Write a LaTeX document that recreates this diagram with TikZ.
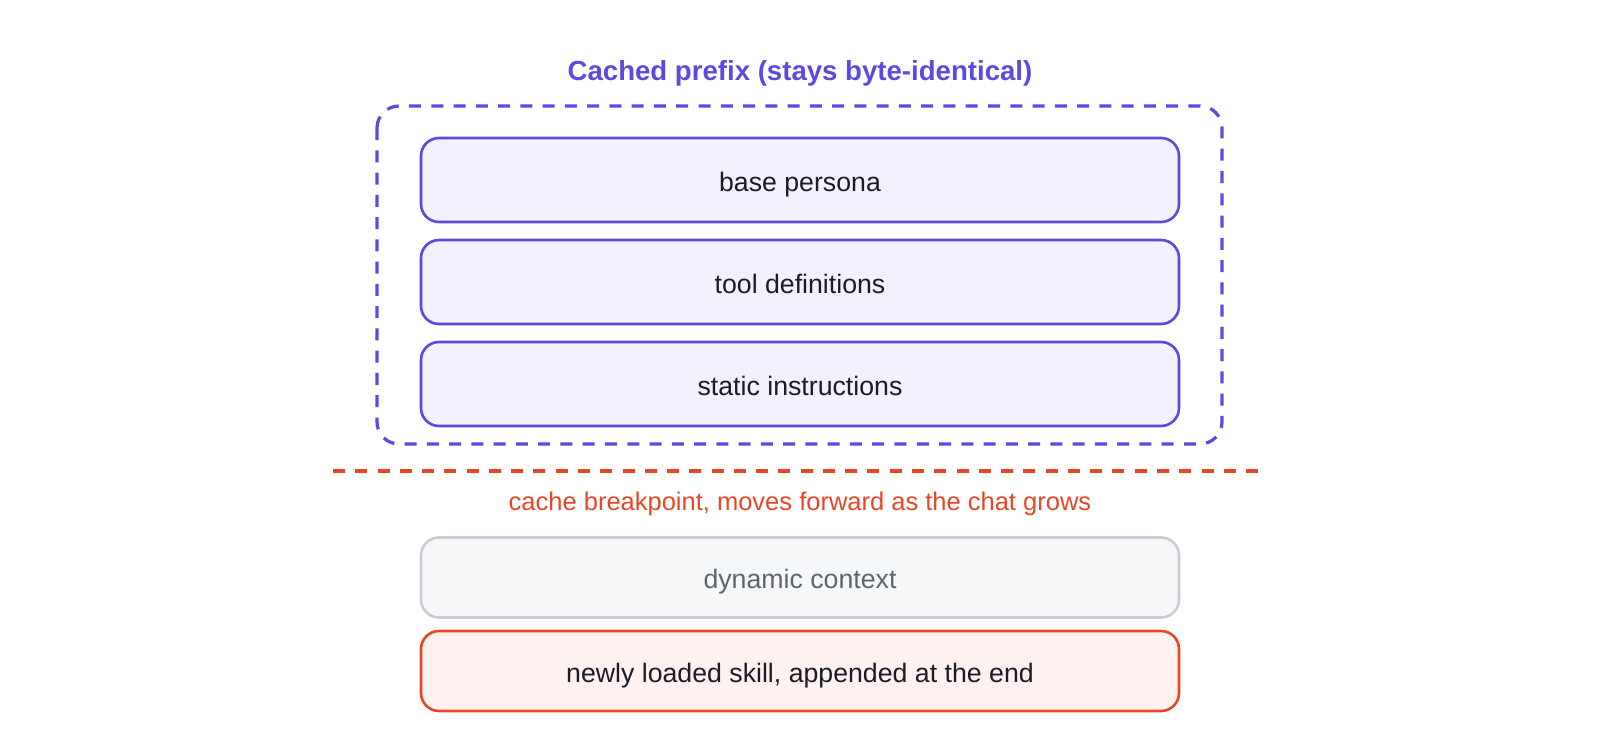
\documentclass[tikz,border=0pt]{standalone}
\usepackage{fontspec}
\setmainfont{Liberation Sans}
\definecolor{cblue}{RGB}{91,74,225}
\definecolor{cbluefill}{RGB}{242,241,253}
\definecolor{cred}{RGB}{232,70,36}
\definecolor{credfill}{RGB}{253,242,239}
\definecolor{cgray}{RGB}{201,204,213}
\definecolor{cgrayfill}{RGB}{246,247,249}
\definecolor{cgraytext}{RGB}{94,100,113}
\definecolor{cdark}{RGB}{28,28,40}
\tikzset{
  layerbox/.style={draw=cblue, fill=cbluefill, line width=2.6pt, rounded corners=18pt,
    minimum width=758pt, minimum height=84pt, inner sep=0pt, text=cdark,
    font=\fontsize{26.7}{32}\selectfont, text height=22pt, text depth=0pt},
  dynbox/.style={layerbox, draw=cgray, fill=cgrayfill, text=cgraytext, minimum height=80pt},
  skillbox/.style={layerbox, draw=cred, fill=credfill, minimum height=80pt},
  dashline/.style={line width=3.2pt, dash pattern=on 12pt off 10.27pt},
}
\begin{document}
\begin{tikzpicture}[x=1pt,y=-1pt]
\useasboundingbox (0,0) rectangle (1600,733);
\node[text=cblue, font=\bfseries\fontsize{27.6}{33}\selectfont, anchor=base] (title) at (800,81) {Cached prefix (stays byte-identical)};
\draw[dashline, draw=cblue, rounded corners=22pt] (377,106) rectangle (1222,444);
\node[layerbox] (persona) at (800,180) {base persona};
\node[layerbox] (tools) at (800,282) {tool definitions};
\node[layerbox] (static) at (800,384) {static instructions};
\coordinate (bpL) at (333,471);
\coordinate (bpR) at (1258,471);
\draw[dashline, draw=cred] (bpL) -- (bpR);
\node[text=cred, font=\fontsize{25.5}{31}\selectfont, anchor=base] (bplabel) at (800,510) {cache breakpoint, moves forward as the chat grows};
\node[dynbox] (dynamic) at (800,577.5) {dynamic context};
\node[skillbox] (skill) at (800,671) {newly loaded skill, appended at the end};
\end{tikzpicture}
\end{document}
